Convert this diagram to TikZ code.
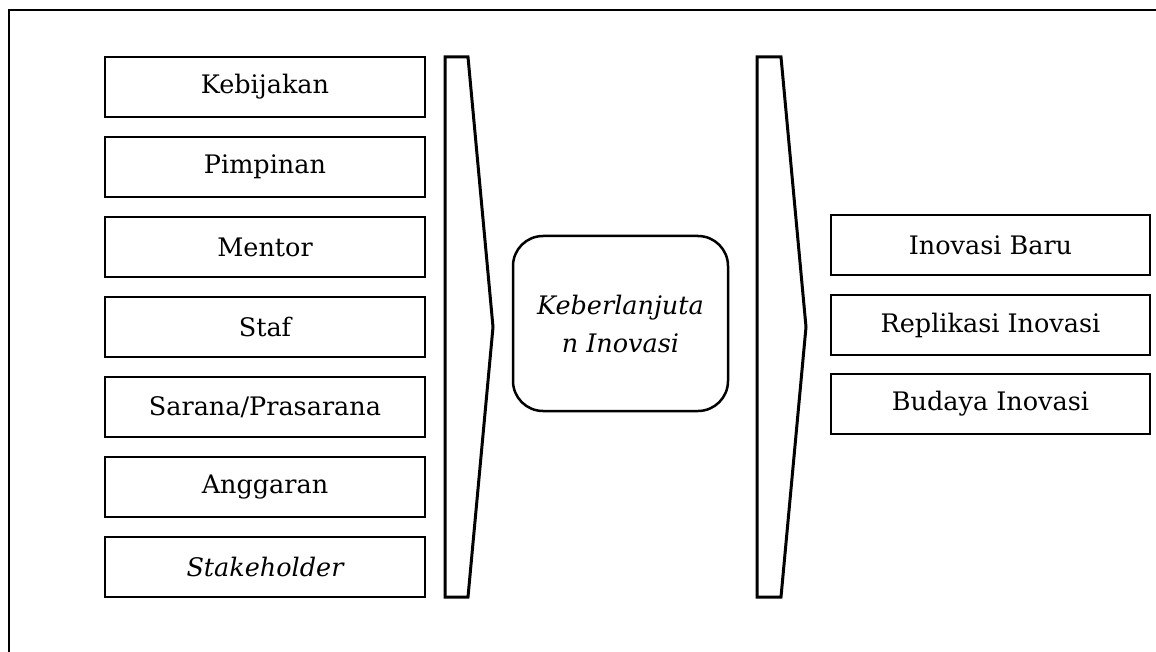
\documentclass[tikz,border=0pt]{standalone}
\usepackage{fontspec}
\setmainfont{DejaVu Serif}
\begin{document}
\begin{tikzpicture}[x=1pt,y=-1pt,
  box/.style={draw=black, line width=2.5pt, minimum width=320pt, minimum height=60pt, inner sep=0pt, font=\fontsize{25.5}{30}\selectfont},
  outbox/.style={box, minimum width=319pt},
  chev/.style={draw=black, line width=3pt, line join=miter},
  center/.style={draw=black, line width=2.5pt, rounded corners=30pt, minimum width=215pt, minimum height=175pt, align=center, inner sep=0pt, font=\fontsize{25.5}{38}\selectfont\itshape}]
\useasboundingbox (0,0) rectangle (1156,652);
\fill[white] (0,0) rectangle (1156,652);
\draw[line width=2.5pt] (9,652) -- (9,10) -- (1156,10);
% left column
\node[box] (k1) at (265,87) {Kebijakan};
\node[box] (k2) at (265,167) {Pimpinan};
\node[box] (k3) at (265,247) {Mentor};
\node[box] (k4) at (265,327) {Staf};
\node[box] (k5) at (265,407) {Sarana/Prasarana};
\node[box] (k6) at (265,487) {Anggaran};
\node[box] (k7) at (265,567) {\itshape Stakeholder};
% chevrons
\draw[chev] (445,57) -- (468,57) -- (493,327) -- (468,597) -- (445,597) -- cycle;
\draw[chev] (757,57) -- (781,57) -- (806,327) -- (781,597) -- (757,597) -- cycle;
% centre
\node[center] (c) at (620.5,323.5) {Keberlanjuta\\n Inovasi};
% right column
\node[outbox] (o1) at (990.5,245) {Inovasi Baru};
\node[outbox] (o2) at (990.5,325) {Replikasi Inovasi};
\node[outbox] (o3) at (990.5,404) {Budaya Inovasi};
\end{tikzpicture}
\end{document}
